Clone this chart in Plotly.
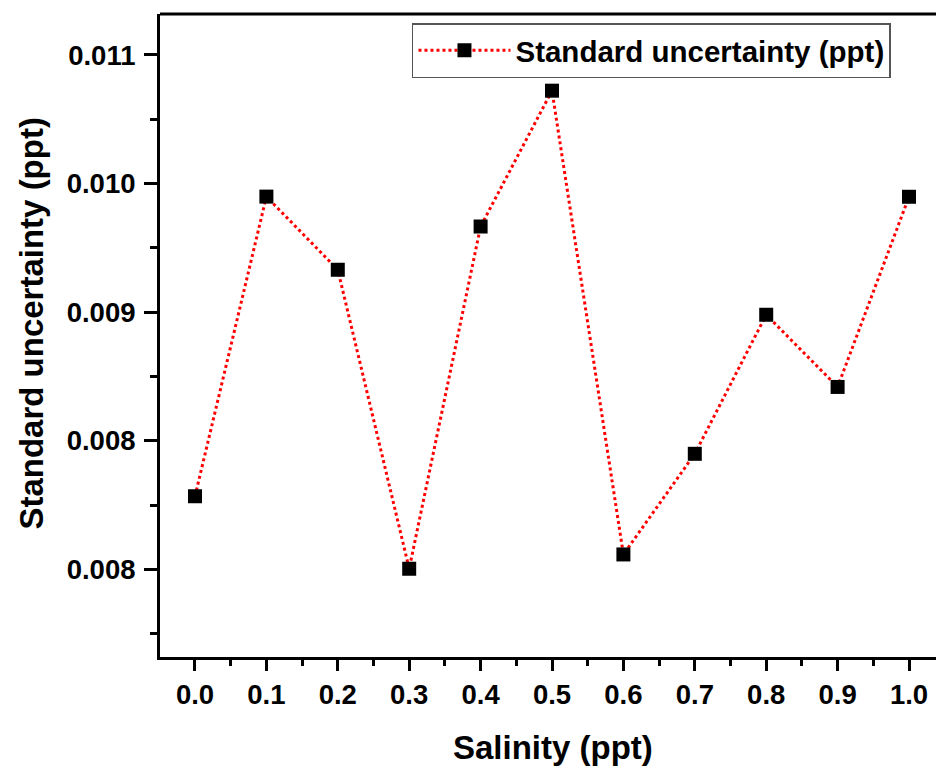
import plotly.graph_objects as go

salinity = [0.0, 0.1, 0.2, 0.3, 0.4, 0.5, 0.6, 0.7, 0.8, 0.9, 1.0]
uncertainty = [0.008055, 0.009919, 0.009464, 0.007604, 0.009733, 0.010578,
               0.007693, 0.008319, 0.009184, 0.008735, 0.009918]

x_ticks = [0.0, 0.1, 0.2, 0.3, 0.4, 0.5, 0.6, 0.7, 0.8, 0.9, 1.0]
x_ticktext = ["0.0", "0.1", "0.2", "0.3", "0.4", "0.5", "0.6", "0.7", "0.8", "0.9", "1.0"]
y_ticks = [0.0076, 0.0084, 0.0092, 0.0100, 0.0108]
y_ticktext = ["0.008", "0.008", "0.009", "0.010", "0.011"]

FONT = "Liberation Sans, Arial, sans-serif"

fig = go.Figure()
fig.add_trace(go.Scatter(
    x=salinity, y=uncertainty, mode="lines+markers",
    name="Standard uncertainty (ppt)",
    line=dict(color="#ff0000", width=3, dash="dot"),
    marker=dict(symbol="square", size=14, color="black"),
))

fig.update_layout(
    width=936, height=767,
    margin=dict(l=160, r=0, t=14, b=110),
    paper_bgcolor="white", plot_bgcolor="white",
    font=dict(family=FONT, color="black", size=27, weight="bold"),
    showlegend=True,
    legend=dict(x=0.3247, y=0.986, xanchor="left", yanchor="top",
                bgcolor="white", bordercolor="#555555", borderwidth=1.5,
                font=dict(family=FONT, size=29.5, color="black", weight="bold"),
                itemwidth=92, tracegroupgap=0),
    xaxis=dict(range=[-0.049, 1.0378], tickvals=x_ticks, ticktext=x_ticktext,
               showline=True, linecolor="black", linewidth=3, mirror=False,
               ticks="outside", ticklen=11, tickwidth=3, tickcolor="black",
               minor=dict(ticks="outside", ticklen=6, tickwidth=3, tickcolor="black",
                          dtick=0.05, tick0=0.05, showgrid=False),
               showgrid=False, zeroline=False,
               tickfont=dict(family=FONT, size=27.5, weight="bold")),
    yaxis=dict(range=[0.007055, 0.011055], tickvals=y_ticks, ticktext=y_ticktext,
               showline=True, linecolor="black", linewidth=3, mirror=False,
               ticks="outside", ticklen=13, tickwidth=3, tickcolor="black",
               minor=dict(ticks="outside", ticklen=7, tickwidth=3, tickcolor="black",
                          dtick=0.0008, tick0=0.0072, showgrid=False),
               showgrid=False, zeroline=False, ticklabelstandoff=3,
               tickfont=dict(family=FONT, size=27.5, weight="bold")),
    shapes=[dict(type="line", xref="paper", yref="paper", x0=0, x1=1, y0=1, y1=1,
                 line=dict(color="black", width=3))],
    annotations=[
        dict(text="Salinity (ppt)", xref="paper", yref="paper", x=0.5064, y=-0.141,
             xanchor="center", yanchor="middle", showarrow=False,
             font=dict(family=FONT, size=33, weight="bold")),
        dict(text="Standard uncertainty (ppt)", xref="paper", yref="paper", x=-0.165, y=0.52,
             xanchor="center", yanchor="middle", showarrow=False, textangle=-90,
             font=dict(family=FONT, size=33, weight="bold")),
    ],
)

fig.write_html("out.html")
